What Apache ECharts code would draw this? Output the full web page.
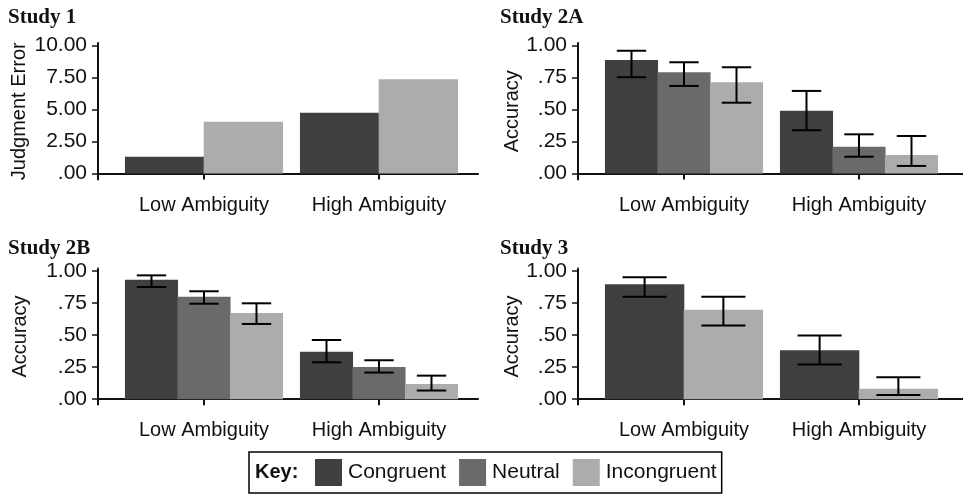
<!DOCTYPE html>
<html>
<head>
<meta charset="utf-8">
<script src="https://cdn.jsdelivr.net/npm/echarts@6/dist/echarts.min.js"></script>
<style>
  html, body { margin: 0; padding: 0; background: #fff; }
  #chart { width: 963px; height: 496px; }
</style>
</head>
<body>
<div id="chart"></div>
<script>
// Condition means (bar heights) and confidence limits, per study
const categories = ['Low Ambiguity', 'High Ambiguity'];
const conditions = ['Congruent', 'Neutral', 'Incongruent'];

// Study 1: judgment error (no error bars)
const study1Congruent = [1.31, 4.75];
const study1Incongruent = [4.05, 7.36];

// Study 2A: accuracy
const study2aCongruent = [0.887, 0.491];
const study2aCongruentLow = [0.752, 0.338];
const study2aCongruentHigh = [0.959, 0.645];
const study2aNeutral = [0.791, 0.209];
const study2aNeutralLow = [0.684, 0.131];
const study2aNeutralHigh = [0.869, 0.306];
const study2aIncongruent = [0.713, 0.145];
const study2aIncongruentLow = [0.553, 0.059];
const study2aIncongruentHigh = [0.830, 0.293];

// Study 2B: accuracy
const study2bCongruent = [0.932, 0.371];
const study2bCongruentLow = [0.875, 0.288];
const study2bCongruentHigh = [0.966, 0.462];
const study2bNeutral = [0.800, 0.252];
const study2bNeutralLow = [0.745, 0.208];
const study2bNeutralHigh = [0.842, 0.304];
const study2bIncongruent = [0.673, 0.119];
const study2bIncongruentLow = [0.587, 0.068];
const study2bIncongruentHigh = [0.748, 0.184];

// Study 3: accuracy
const study3Congruent = [0.896, 0.383];
const study3CongruentLow = [0.799, 0.271];
const study3CongruentHigh = [0.951, 0.497];
const study3Incongruent = [0.698, 0.081];
const study3IncongruentLow = [0.576, 0.034];
const study3IncongruentHigh = [0.799, 0.172];

// Tick labels
const errorTicks = [0, 2.5, 5, 7.5, 10];
const accuracyTicks = [0, 0.25, 0.5, 0.75, 1];
const categoryTicks = [1, 2];

const panelTitles = ['Study 1', 'Study 2A', 'Study 2B', 'Study 3'];
const yAxisNames = ['Judgment Error', 'Accuracy', 'Accuracy', 'Accuracy'];

const colors = { Congruent: '#404040', Neutral: '#6a6a6a', Incongruent: '#acacac' };
const INK = '#111';
const GROUP_WIDTH = 0.9;
const SANS = 'Liberation Sans, Arial, sans-serif';
const SERIF = 'Liberation Serif, Times New Roman, serif';

function fmtTick(v) {
  return v.toFixed(2).replace(/^0\./, '.');
}

const grids = [
  { left: 98, top: 43, width: 380, height: 136.5 },
  { left: 578, top: 43, width: 385, height: 136.5 },
  { left: 98, top: 268.5, width: 380, height: 136 },
  { left: 578, top: 268.5, width: 385, height: 136 }
];

const yRanges = [
  { min: -0.469, max: 10.195, ticks: errorTicks, gap: 69 },
  { min: -0.047, max: 1.0195, ticks: accuracyTicks, gap: 53 },
  { min: -0.041, max: 1.0195, ticks: accuracyTicks, gap: 68 },
  { min: -0.041, max: 1.0195, ticks: accuracyTicks, gap: 53 }
];
const xRanges = [
  { min: 0.3943, max: 2.5657 },
  { min: 0.3943, max: 2.5943 },
  { min: 0.3943, max: 2.5657 },
  { min: 0.3943, max: 2.5943 }
];

const axisLineStyle = { color: INK, width: 2 };

const xAxes = xRanges.map((r, i) => ({
  type: 'value', gridIndex: i, min: r.min, max: r.max,
  axisLine: { show: true, lineStyle: axisLineStyle },
  axisTick: { show: true, customValues: categoryTicks, length: 6, lineStyle: { color: INK, width: 2 } },
  axisLabel: {
    customValues: categoryTicks, margin: 16, color: INK, fontSize: 20, fontFamily: SANS,
    formatter: v => categories[Math.round(v) - 1]
  },
  splitLine: { show: false }
}));

const yAxes = yRanges.map((r, i) => ({
  type: 'value', gridIndex: i, min: r.min, max: r.max,
  name: yAxisNames[i], nameLocation: 'middle', nameGap: r.gap, nameRotate: 90,
  nameTextStyle: { color: INK, fontSize: 20, fontFamily: SANS },
  axisLine: { show: true, lineStyle: axisLineStyle },
  axisTick: { show: true, customValues: r.ticks, length: 6, lineStyle: { color: INK, width: 1.5 } },
  axisLabel: { customValues: r.ticks, margin: 11, color: INK, fontSize: 21, fontFamily: SANS, formatter: fmtTick },
  splitLine: { show: false }
}));

// One custom series per condition per panel: a bar plus optional error bar
function barSeries(panel, name, slot, nSlots, values, lows, highs) {
  const data = values.map((v, i) => [categoryTicks[i], v,
    lows ? lows[i] : NaN, highs ? highs[i] : NaN]);
  return {
    type: 'custom', name: name,
    xAxisIndex: panel, yAxisIndex: panel,
    itemStyle: { color: colors[name] },
    encode: { x: 0, y: 1 },
    data: data,
    renderItem: function (params, api) {
      const cat = api.value(0);
      const val = api.value(1);
      const slotW = GROUP_WIDTH / nSlots;
      const cx = cat - GROUP_WIDTH / 2 + slotW * (slot + 0.5);
      const top = api.coord([cx, val]);
      const base = api.coord([cx, 0]);
      const w = api.size([slotW, 0])[0];
      const children = [{
        type: 'rect',
        shape: { x: top[0] - w / 2 - 0.3, y: top[1], width: w + 0.6, height: base[1] - top[1] },
        style: { fill: colors[name] }
      }];
      const lo = api.value(2), hi = api.value(3);
      if (!isNaN(lo) && !isNaN(hi)) {
        const pLo = api.coord([cx, lo]);
        const pHi = api.coord([cx, hi]);
        const cap = w * 0.56;
        const ls = { stroke: '#000', lineWidth: 2 };
        children.push(
          { type: 'line', shape: { x1: pLo[0], y1: pLo[1], x2: pHi[0], y2: pHi[1] }, style: ls },
          { type: 'line', shape: { x1: pLo[0] - cap / 2, y1: pLo[1], x2: pLo[0] + cap / 2, y2: pLo[1] }, style: ls },
          { type: 'line', shape: { x1: pHi[0] - cap / 2, y1: pHi[1], x2: pHi[0] + cap / 2, y2: pHi[1] }, style: ls }
        );
      }
      return { type: 'group', children: children };
    }
  };
}

const series = [
  barSeries(0, 'Congruent', 0, 2, study1Congruent),
  barSeries(0, 'Incongruent', 1, 2, study1Incongruent),
  barSeries(1, 'Congruent', 0, 3, study2aCongruent, study2aCongruentLow, study2aCongruentHigh),
  barSeries(1, 'Neutral', 1, 3, study2aNeutral, study2aNeutralLow, study2aNeutralHigh),
  barSeries(1, 'Incongruent', 2, 3, study2aIncongruent, study2aIncongruentLow, study2aIncongruentHigh),
  barSeries(2, 'Congruent', 0, 3, study2bCongruent, study2bCongruentLow, study2bCongruentHigh),
  barSeries(2, 'Neutral', 1, 3, study2bNeutral, study2bNeutralLow, study2bNeutralHigh),
  barSeries(2, 'Incongruent', 2, 3, study2bIncongruent, study2bIncongruentLow, study2bIncongruentHigh),
  barSeries(3, 'Congruent', 0, 2, study3Congruent, study3CongruentLow, study3CongruentHigh),
  barSeries(3, 'Incongruent', 1, 2, study3Incongruent, study3IncongruentLow, study3IncongruentHigh)
];

const titlePos = [
  { left: 8, top: 7 }, { left: 500, top: 7 }, { left: 8, top: 238 }, { left: 500, top: 238 }
];

const chart = echarts.init(document.getElementById('chart'), null, { renderer: 'canvas' });
chart.setOption({
  animation: false,
  backgroundColor: '#fff',
  title: panelTitles.map((t, i) => ({
    text: t, left: titlePos[i].left, top: titlePos[i].top, padding: 0,
    textStyle: { fontFamily: SERIF, fontWeight: 'bold', fontSize: 21, color: INK }
  })),
  grid: grids,
  xAxis: xAxes,
  yAxis: yAxes,
  legend: {
    data: conditions,
    selectedMode: false,
    left: 249, top: 452,
    orient: 'horizontal',
    icon: 'rect',
    itemWidth: 27, itemHeight: 27, itemGap: 13,
    padding: [7, 5, 7, 66],
    borderColor: '#000', borderWidth: 1.5, borderRadius: 0,
    textStyle: { color: INK, fontSize: 21, fontFamily: SANS, padding: [0, 0, 0, 1] }
  },
  graphic: [{
    type: 'text', left: 255, top: 462,
    style: { text: 'Key:', font: 'bold 20px ' + SANS, fill: INK }
  }],
  series: series
});
</script>
</body>
</html>
